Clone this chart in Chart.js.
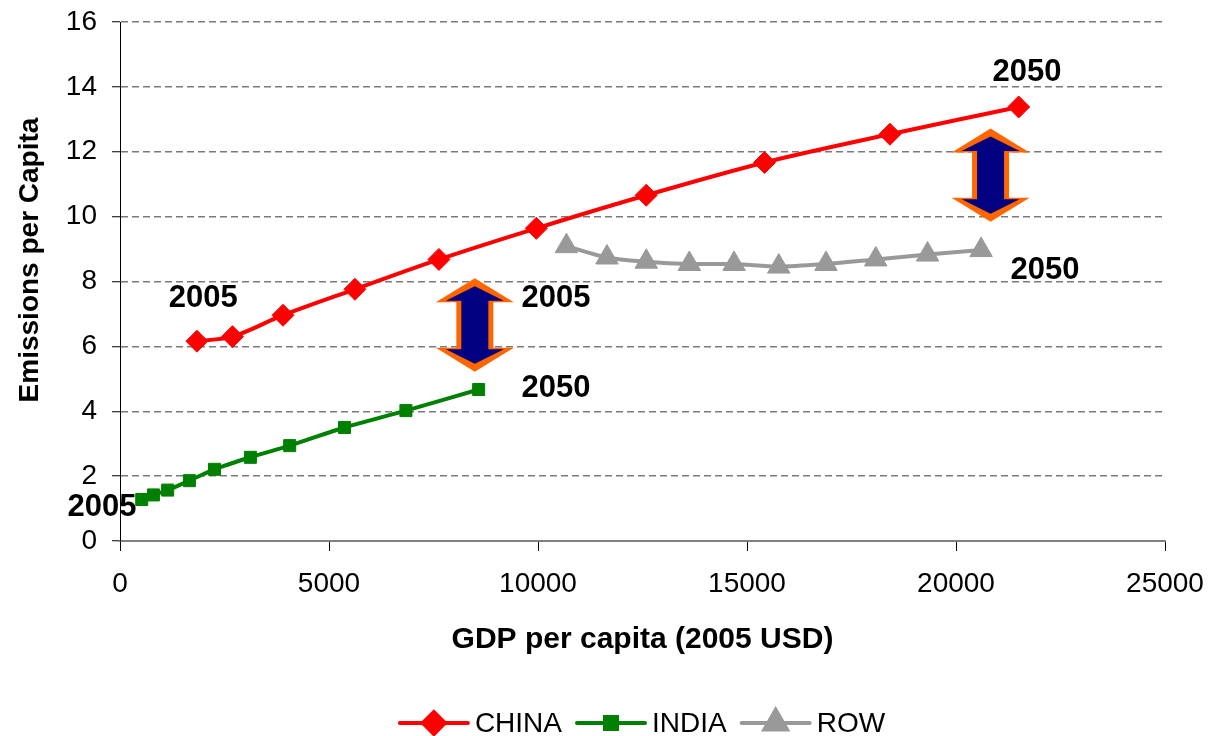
<!DOCTYPE html>
<html>
<head>
<meta charset="utf-8">
<script src="https://cdn.jsdelivr.net/npm/chart.js@4.4.0/dist/chart.umd.min.js"></script>
<style>
  html, body { margin: 0; padding: 0; background: #fff; }
  #wrap { width: 1212px; height: 736px; }
</style>
</head>
<body>
<div id="wrap"><canvas id="emissionsChart" width="1212" height="736"></canvas></div>
<script>
// GDP per capita (2005 USD) vs emissions per capita, 2005 -> 2050
const chinaGdp = [1840, 2690, 3900, 5620, 7630, 9960, 12590, 15420, 18420, 21500];
const chinaEm = [6.16, 6.30, 6.96, 7.76, 8.68, 9.64, 10.66, 11.67, 12.54, 13.38];

const indiaGdp = [520, 800, 1140, 1660, 2260, 3120, 4060, 5370, 6840, 8580];
const indiaEm = [1.28, 1.42, 1.57, 1.86, 2.21, 2.58, 2.94, 3.50, 4.02, 4.67];

const rowGdp = [10680, 11650, 12590, 13620, 14690, 15760, 16890, 18080, 19320, 20600];
const rowEm = [9.09, 8.74, 8.61, 8.54, 8.54, 8.46, 8.54, 8.68, 8.83, 8.97];

const seriesNames = ['CHINA', 'INDIA', 'ROW'];

const xTicks = [0, 5000, 10000, 15000, 20000, 25000];
const yTicks = [0, 2, 4, 6, 8, 10, 12, 14, 16];

// year annotations, placed in data units
const noteText = ['2005', '2005', '2050', '2050', '2050', '2005'];
const noteX = [1990, 10430, 10430, 21700, 22130, -430];
const noteY = [7.49, 7.49, 4.71, 14.45, 8.35, 1.02];

// gap arrows: x position and top/bottom in data units
const gapX = [8489, 20827];
const gapTop = [8.10, 12.72];
const gapBottom = [5.22, 9.84];

const FONT = "'Liberation Sans', Arial, sans-serif";

function toPoints(xs, ys) {
    return xs.map((x, i) => ({ x: x, y: ys[i] }));
}

// double headed arrow: orange outer shape, navy inner shape
function arrowPath(ctx, cx, top, bottom, tipIn, headW, headH, shaftW) {
    ctx.beginPath();
    ctx.moveTo(cx, top + tipIn);
    ctx.lineTo(cx + headW, top + headH);
    ctx.lineTo(cx + shaftW, top + headH);
    ctx.lineTo(cx + shaftW, bottom - headH);
    ctx.lineTo(cx + headW, bottom - headH);
    ctx.lineTo(cx, bottom - tipIn);
    ctx.lineTo(cx - headW, bottom - headH);
    ctx.lineTo(cx - shaftW, bottom - headH);
    ctx.lineTo(cx - shaftW, top + headH);
    ctx.lineTo(cx - headW, top + headH);
    ctx.closePath();
}

function drawGapArrow(ctx, cx, top, bottom) {
    arrowPath(ctx, cx, top, bottom, 0, 39, 24, 18.5);
    ctx.fillStyle = '#ff6600';
    ctx.fill();
    arrowPath(ctx, cx, top, bottom, 8, 29, 22.5, 13.5);
    ctx.fillStyle = '#000080';
    ctx.fill();
}

const extrasPlugin = {
    id: 'extras',
    afterDraw(chart) {
        const ctx = chart.ctx;
        const xs = chart.scales.x;
        const ys = chart.scales.y;
        const area = chart.chartArea;
        ctx.save();

        // arrows
        gapX.forEach((gx, i) => {
            drawGapArrow(ctx, xs.getPixelForValue(gx), ys.getPixelForValue(gapTop[i]), ys.getPixelForValue(gapBottom[i]));
        });

        // year labels
        ctx.fillStyle = '#000';
        ctx.font = 'bold 31px ' + FONT;
        ctx.textAlign = 'center';
        ctx.textBaseline = 'middle';
        noteText.forEach((t, i) => {
            ctx.fillText(t, xs.getPixelForValue(noteX[i]), ys.getPixelForValue(noteY[i]));
        });

        // y axis title
        ctx.save();
        ctx.translate(30, 260);
        ctx.rotate(-Math.PI / 2);
        ctx.font = 'bold 28px ' + FONT;
        ctx.fillText('Emissions per Capita', 0, 0);
        ctx.restore();

        // legend: line + marker, Excel style
        const legY = 723, lineLen = 68, gapText = 7, gapItem = 15;
        ctx.font = '28px ' + FONT;
        const widths = seriesNames.map(n => ctx.measureText(n).width);
        const total = widths.reduce((a, b) => a + b, 0) + seriesNames.length * (lineLen + gapText) + (seriesNames.length - 1) * gapItem;
        let lx = (area.left + area.right) / 2 - total / 2;
        chart.data.datasets.forEach((ds, i) => {
            ctx.strokeStyle = ds.borderColor;
            ctx.lineWidth = 4;
            ctx.lineCap = 'round';
            ctx.beginPath();
            ctx.moveTo(lx, legY);
            ctx.lineTo(lx + lineLen, legY);
            ctx.stroke();
            ctx.fillStyle = ds.pointBackgroundColor;
            ctx.strokeStyle = ds.pointBorderColor;
            Chart.helpers.drawPoint(ctx, {
                pointStyle: ds.pointStyle,
                radius: ds.pointRadius,
                rotation: 0,
                borderWidth: 1
            }, lx + lineLen / 2, legY);
            ctx.fillStyle = '#000';
            ctx.textAlign = 'left';
            ctx.fillText(seriesNames[i], lx + lineLen + gapText, legY + 1);
            lx += lineLen + gapText + widths[i] + gapItem;
        });
        ctx.restore();
    }
};

document.addEventListener('DOMContentLoaded', function() {
    const chartEl = document.getElementById('emissionsChart');
    if (!chartEl) return;

    new Chart(chartEl.getContext('2d'), {
        type: 'line',
        data: {
            datasets: [
                {
                    label: seriesNames[0],
                    data: toPoints(chinaGdp, chinaEm),
                    borderColor: '#ff0000',
                    backgroundColor: '#ff0000',
                    pointBackgroundColor: '#ff0000',
                    pointBorderColor: '#ff0000',
                    pointStyle: 'rectRot',
                    pointRadius: 11,
                    pointBorderWidth: 1,
                    borderWidth: 4,
                    tension: 0.3
                },
                {
                    label: seriesNames[1],
                    data: toPoints(indiaGdp, indiaEm),
                    borderColor: '#008000',
                    backgroundColor: '#008000',
                    pointBackgroundColor: '#008000',
                    pointBorderColor: '#008000',
                    pointStyle: 'rect',
                    pointRadius: 8.5,
                    pointBorderWidth: 1,
                    borderWidth: 4,
                    tension: 0.3
                },
                {
                    label: seriesNames[2],
                    data: toPoints(rowGdp, rowEm),
                    borderColor: '#999999',
                    backgroundColor: '#999999',
                    pointBackgroundColor: '#999999',
                    pointBorderColor: '#999999',
                    pointStyle: 'triangle',
                    pointRadius: 13,
                    pointBorderWidth: 1,
                    borderWidth: 4,
                    tension: 0.3
                }
            ]
        },
        options: {
            responsive: false,
            animation: false,
            devicePixelRatio: 1,
            layout: { padding: { left: 10, right: 47, top: 22, bottom: 76 } },
            plugins: {
                legend: { display: false },
                tooltip: { enabled: false }
            },
            scales: {
                x: {
                    type: 'linear',
                    min: 0,
                    max: 25000,
                    afterBuildTicks: scale => { scale.ticks = xTicks.map(v => ({ value: v })); },
                    afterFit: scale => {
                        scale.height = 119;
                        scale.paddingLeft = 0;
                        scale.paddingRight = 0;
                    },
                    ticks: {
                        color: '#000',
                        padding: 16,
                        font: { family: FONT, size: 28 },
                        maxRotation: 0,
                        callback: v => String(v)
                    },
                    grid: {
                        drawOnChartArea: false,
                        drawTicks: true,
                        tickLength: 10,
                        tickColor: '#000'
                    },
                    border: { color: '#808080', width: 2 },
                    title: {
                        display: true,
                        text: 'GDP per capita (2005 USD)',
                        color: '#000',
                        font: { family: FONT, size: 30, weight: 'bold' },
                        padding: { top: 0, bottom: 2 }
                    }
                },
                y: {
                    min: 0,
                    max: 16,
                    afterBuildTicks: scale => { scale.ticks = yTicks.map(v => ({ value: v })); },
                    afterFit: scale => {
                        scale.width = 110;
                        scale.paddingTop = 0;
                        scale.paddingBottom = 0;
                    },
                    ticks: {
                        color: '#000',
                        padding: 15,
                        font: { family: FONT, size: 28 }
                    },
                    grid: {
                        color: '#7a7a7a',
                        lineWidth: 1.5,
                        tickLength: 8,
                        tickColor: '#000',
                        tickWidth: 1,
                        tickBorderDash: []
                    },
                    border: { color: '#000', width: 1, dash: [7, 4] },
                    title: { display: false }
                }
            }
        },
        plugins: [extrasPlugin]
    });
});
</script>
</body>
</html>
